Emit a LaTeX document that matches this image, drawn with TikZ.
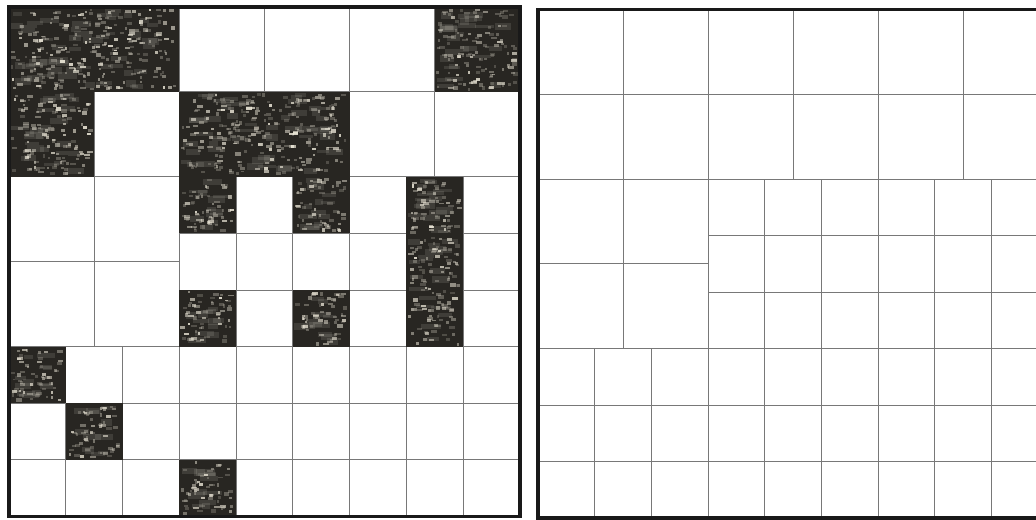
\documentclass[tikz,border=0pt]{standalone}
\definecolor{gridc}{RGB}{120,120,120}
\definecolor{darkbg}{RGB}{40,38,34}
\definecolor{framec}{RGB}{25,25,25}
\definecolor{speckc}{RGB}{235,230,215}
\tikzset{
 gridline/.style={draw=gridc,line width=0.85pt},
 frameline/.style={draw=framec,line width=2.7pt},
 speck/.style={fill=speckc},
 haze/.style={fill=speckc}
}
\newcommand\panelX{0}\newcommand\panelY{0}\newcommand\panelW{0}\newcommand\panelH{0}
\newcommand\drawpanel{%
 \pgfmathsetmacro\Bx{\panelW/3}%
 \pgfmathsetmacro\By{\panelH/3}%
 \foreach \rw/\cl/\nn in {0/0/2,0/1/2,0/2/2,1/0/2,1/1/3,1/2/3,2/0/3,2/1/3,2/2/3}{%
   \pgfmathtruncatemacro\mm{\nn-1}%
   \pgfmathsetmacro\bx{\panelX+\cl*\Bx}%
   \pgfmathsetmacro\by{\panelY+\rw*\By}%
   \foreach \ii in {1,...,\mm}{%
     \draw[gridline] ({\bx+\ii*\Bx/\nn},\by) -- ++(0,\By);
     \draw[gridline] (\bx,{\by+\ii*\By/\nn}) -- ++(\Bx,0);
   }
 }%
 \foreach \ii in {1,2}{%
   \draw[gridline] ({\panelX+\ii*\Bx},\panelY) -- ++(0,\panelH);
   \draw[gridline] (\panelX,{\panelY+\ii*\By}) -- ++(\panelW,0);
 }%
}
% dark textured region, in units of 1/18 of the panel
\newcommand\dk[4]{%
 \pgfmathsetmacro\ux{\panelW/18}%
 \pgfmathsetmacro\uy{\panelH/18}%
 \pgfmathsetmacro\dx{\panelX+#1*\ux}%
 \pgfmathsetmacro\dy{\panelY+#2*\uy}%
 \pgfmathsetmacro\dw{#3*\ux}%
 \pgfmathsetmacro\dh{#4*\uy}%
 \fill[darkbg] (\dx,\dy) rectangle ++(\dw,\dh);
 \pgfmathtruncatemacro\nhz{#3*#4*3}%
 \foreach \kk in {1,...,\nhz}{%
   \pgfmathsetmacro\sx{\dx+1+rnd*(\dw-22)}%
   \pgfmathsetmacro\sy{\dy+1+rnd*(\dh-8)}%
   \pgfmathsetmacro\sw{8+rnd*12}%
   \pgfmathsetmacro\sh{3+rnd*4}%
   \fill[haze,opacity=0.12] (\sx,\sy) rectangle ++(\sw,\sh);
 }%
 \pgfmathtruncatemacro\nsp{#3*#4*14}%
 \foreach \kk in {1,...,\nsp}{%
   \pgfmathsetmacro\sx{\dx+1+rnd*(\dw-7)}%
   \pgfmathsetmacro\sy{\dy+1+rnd*(\dh-5)}%
   \pgfmathsetmacro\sw{2+rnd*4}%
   \pgfmathsetmacro\sh{1.8+rnd*1.8}%
   \pgfmathsetmacro\op{0.2+0.75*rnd*rnd}%
   \fill[speck,opacity=\op] (\sx,\sy) rectangle ++(\sw,\sh);
 }%
}
\begin{document}
\begin{tikzpicture}[x=0.03cm,y=-0.03cm]
\useasboundingbox (0,0) rectangle (1036,519);
\clip (0,0) rectangle (1036,519);
\fill[white] (0,0) rectangle (1036,519);
% ---- left panel ----
\renewcommand\panelX{9}\renewcommand\panelY{7}%
\renewcommand\panelW{511}\renewcommand\panelH{509.5}%
\drawpanel
\pgfmathsetseed{7}
\dk{0}{0}{6}{3}
\dk{0}{3}{3}{3}
\dk{15}{0}{3}{3}
\dk{6}{3}{6}{3}
\dk{6}{6}{2}{2}
\dk{10}{6}{2}{2}
\dk{6}{10}{2}{2}
\dk{10}{10}{2}{2}
\dk{14}{6}{2}{6}
\dk{0}{12}{2}{2}
\dk{2}{14}{2}{2}
\dk{6}{16}{2}{2}
\draw[frameline] (\panelX,\panelY) rectangle ++(\panelW,\panelH);
% ---- right panel ----
\renewcommand\panelX{538}\renewcommand\panelY{9.5}%
\renewcommand\panelW{510}\renewcommand\panelH{508.5}%
\drawpanel
\draw[frameline] (\panelX,\panelY) rectangle ++(\panelW,\panelH);
\end{tikzpicture}
\end{document}
